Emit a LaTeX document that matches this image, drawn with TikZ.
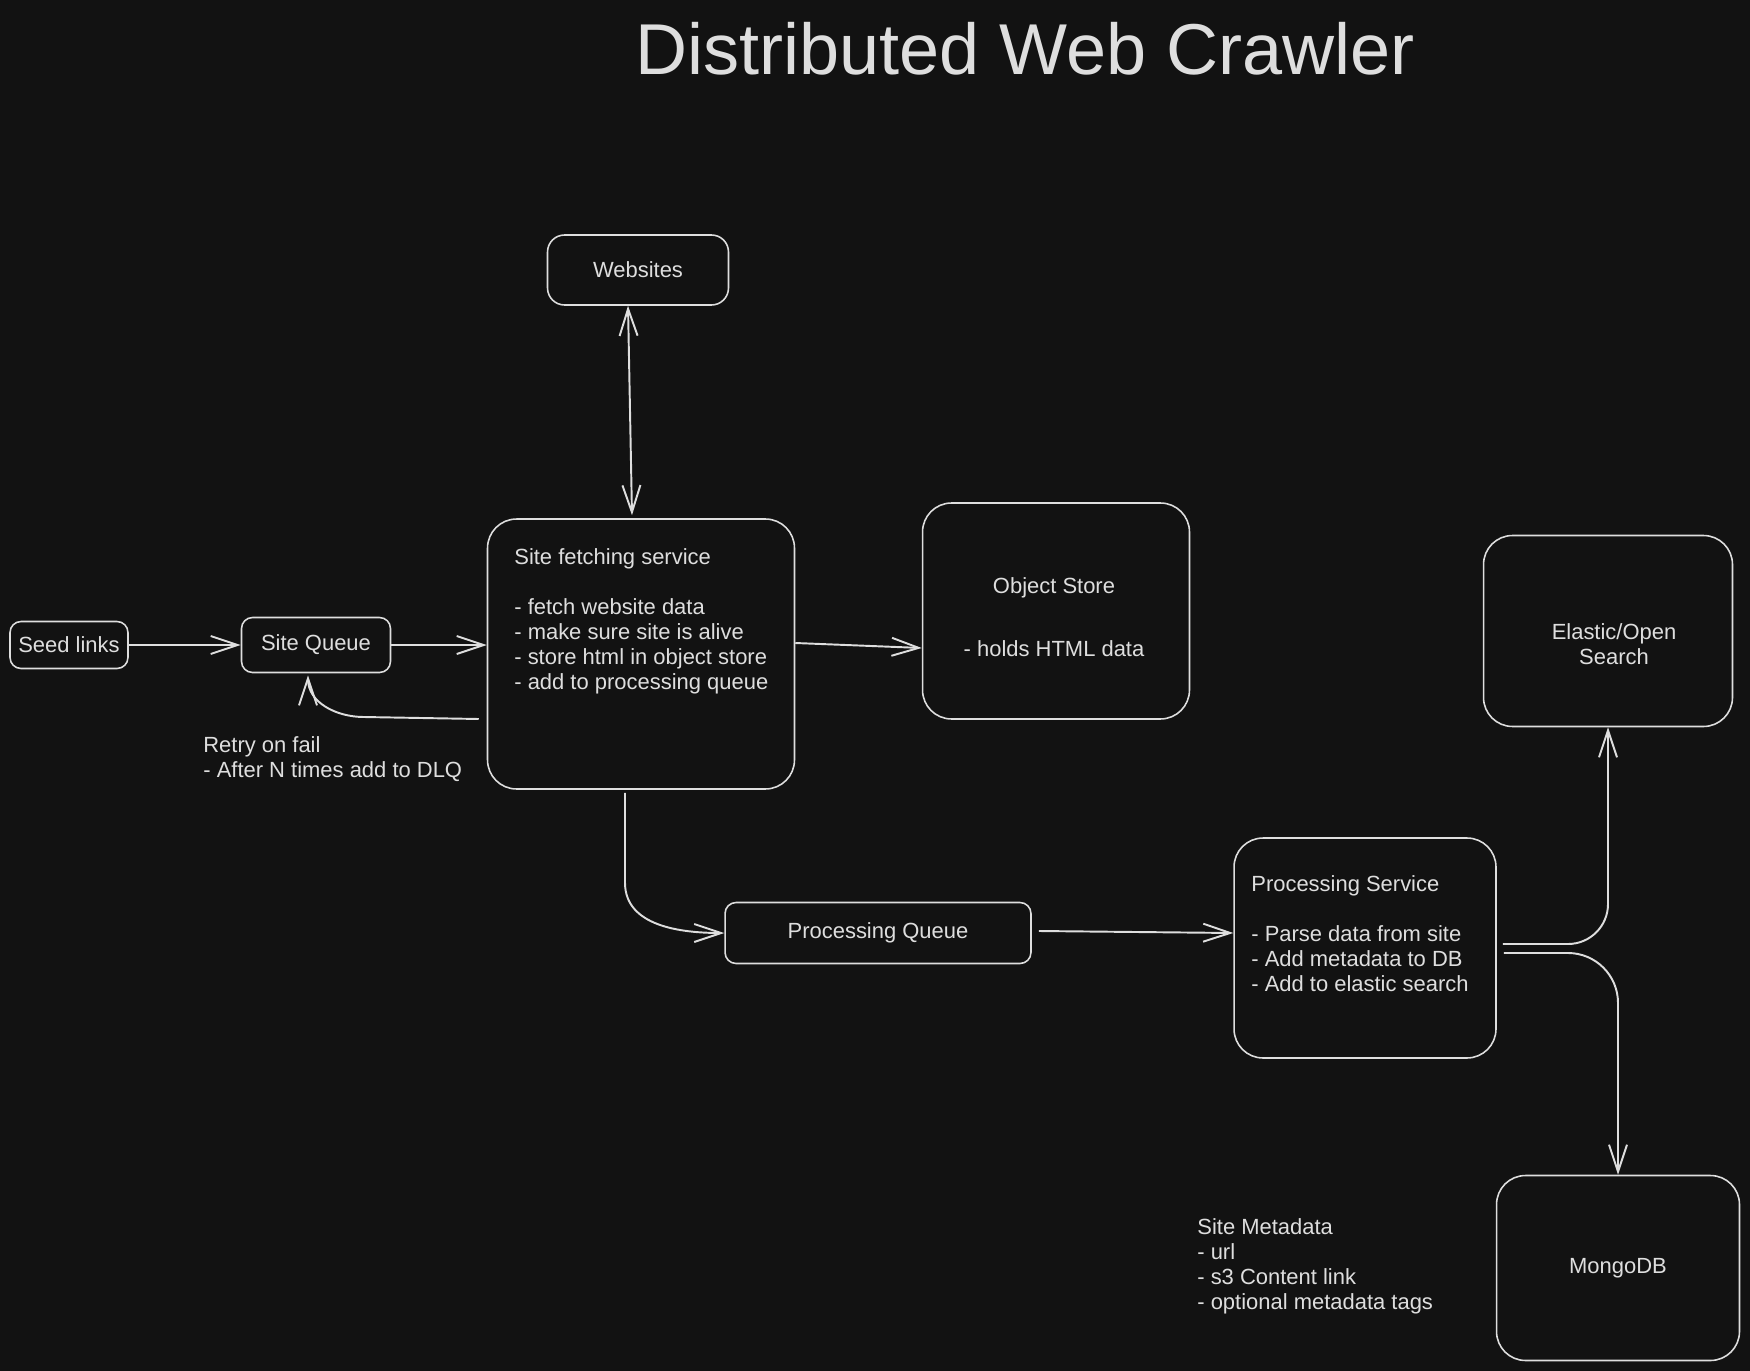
\documentclass[tikz,border=0pt]{standalone}
\usepackage{fontspec}
\setmainfont{Liberation Sans}
\usetikzlibrary{arrows.meta,positioning}
\definecolor{CanvasBg}{RGB}{18,18,18}
\definecolor{InkLine}{RGB}{222,222,222}

\begin{document}
\begin{tikzpicture}[
    x=0.02cm, y=-0.02cm,
    font=\fontsize{12.5}{14.2}\selectfont,
    box/.style={draw=InkLine, line width=0.9pt, rounded corners=0.22cm, fill=CanvasBg,
                text=InkLine, align=center},
    bigbox/.style={box, rounded corners=0.58cm},
    note/.style={text=InkLine, align=left, anchor=north west, inner sep=0pt},
    arr/.style={-{Straight Barb[length=5.4mm, width=3.6mm]}, draw=InkLine, line width=1.1pt},
    dbl/.style={arr, {Straight Barb[length=5.4mm, width=3.6mm]}-{Straight Barb[length=5.4mm, width=3.6mm]}}
]
    \useasboundingbox (0,0) rectangle (1750,1371);
    \fill[CanvasBg] (0,0) rectangle (1750,1371);

    \node[text=InkLine, font=\fontsize{41}{45}\selectfont] (title) at (1025,49) {Distributed Web Crawler};

    \node[box, minimum width=2.36cm, minimum height=0.94cm] (seed) at (69,645) {Seed links};
    \node[box, minimum width=2.98cm, minimum height=1.1cm] (squeue) at (316,645) {Site Queue};
    \node[box, rounded corners=0.34cm, minimum width=3.62cm, minimum height=1.4cm] (web) at (638,270) {Websites};
    \node[bigbox, minimum width=6.14cm, minimum height=5.4cm] (fetch) at (641,654) {};
    \node[note] (fetchtxt) at (514,548) {Site fetching service\\[14.2pt]- fetch website data\\- make sure site is alive\\- store html in object store\\- add to processing queue};
    \node[bigbox, minimum width=5.34cm, minimum height=4.32cm] (store) at (1056,611) {};
    \node[text=InkLine, align=center] (storetxt) at (1054,617) {Object Store\\[22pt]- holds HTML data};
    \node[bigbox, minimum width=4.98cm, minimum height=3.82cm] (search) at (1608,631) {};
    \node[text=InkLine, align=center] (searchtxt) at (1614,644) {Elastic/Open\\Search};
    \node[box, minimum width=6.12cm, minimum height=1.22cm] (pqueue) at (878,933) {Processing Queue};
    \node[bigbox, minimum width=5.24cm, minimum height=4.4cm] (psvc) at (1365,948) {};
    \node[note] (psvctxt) at (1251,875) {Processing Service\\[14.2pt]- Parse data from site\\- Add metadata to DB\\- Add to elastic search};
    \node[bigbox, minimum width=4.86cm, minimum height=3.7cm] (mongo) at (1618,1268) {MongoDB};
    \node[note] (retry) at (203,736) {Retry on fail\\- After N times add to DLQ};
    \node[note] (meta) at (1197,1218) {Site Metadata\\- url\\- s3 Content link\\- optional metadata tags};

    % ingest
    \draw[arr] (seed) -- (squeue);
    \draw[arr] (squeue.east) -- (squeue.east -| fetch.west);
    \draw[dbl] ([shift={(-10,0)}]web.south) -- ([shift={(-9,-3)}]fetch.north);
    \draw[arr] ([shift={(0,-11)}]fetch.east) -- ([shift={(0,37)}]store.west);
    \draw[arr] ([shift={(-8,65)}]fetch.west) -- ++(-115,-2) to[out=180,in=-90] ([shift={(-8,2)}]squeue.south);
    % processing
    \draw[arr] ([shift={(-16,3)}]fetch.south) -- ++(0,90) to[out=-90,in=180] (pqueue.west);
    \draw[arr] ([shift={(7,-2)}]pqueue.east) -- ([shift={(0,-15)}]psvc.west);
    \draw[arr, rounded corners=0.8cm] ([shift={(6,-4)}]psvc.east) -| (search.south);
    \draw[arr, rounded corners=1cm] ([shift={(7,5)}]psvc.east) -| (mongo.north);
\end{tikzpicture}
\end{document}
